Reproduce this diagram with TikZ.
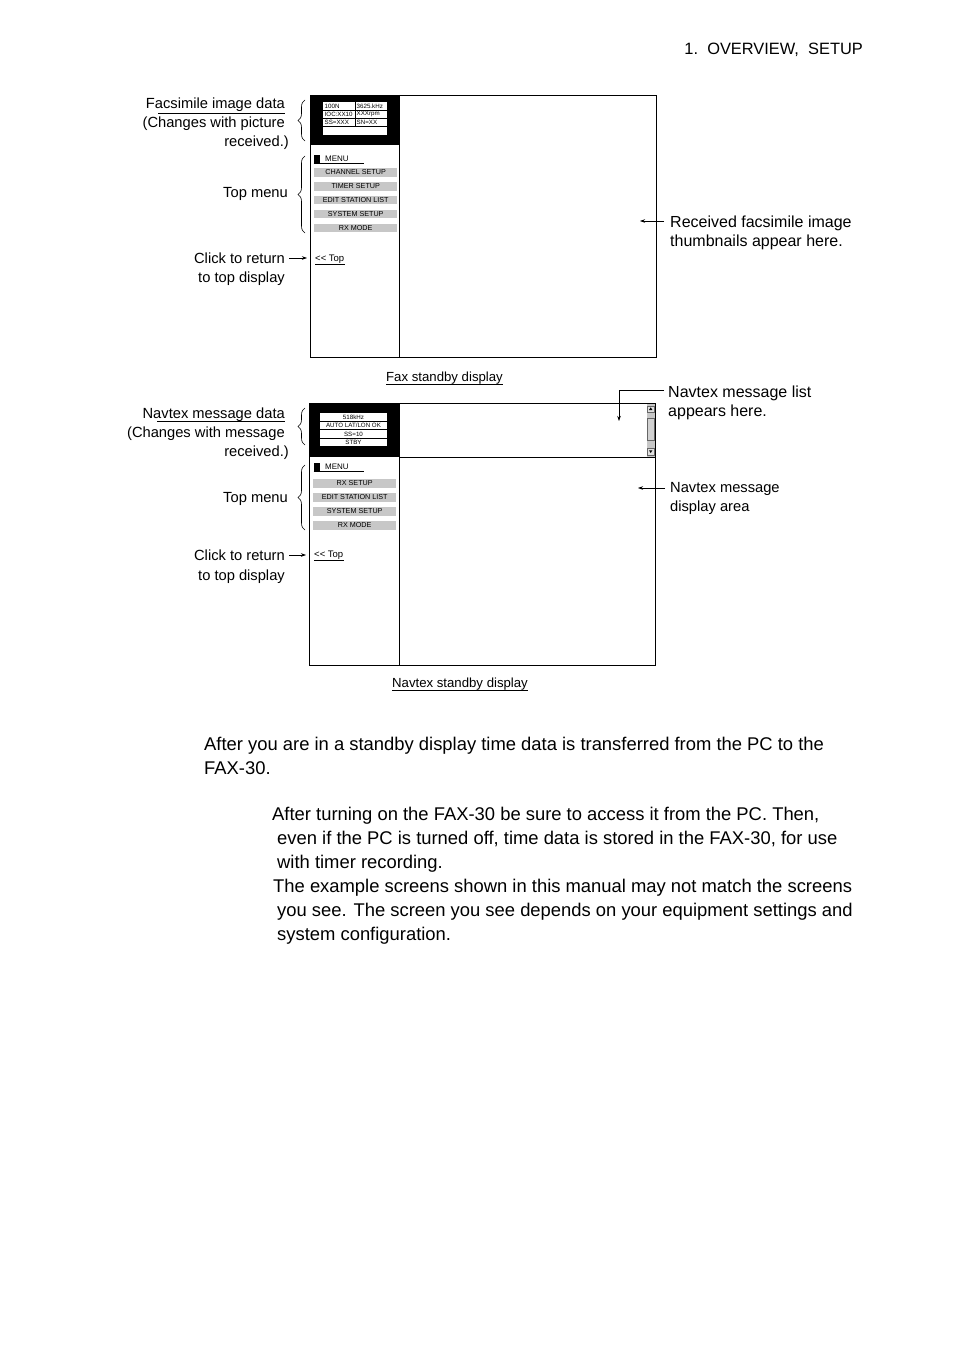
\documentclass[tikz,border=0pt]{standalone}
\usepackage{fontspec}
\setmainfont{Liberation Sans}
\usetikzlibrary{decorations.pathreplacing,arrows.meta}
\begin{document}
\begin{tikzpicture}[x=1pt,y=-1pt,
  panel/.style={draw, line width=0.9pt, inner sep=0, anchor=north west},
  blk/.style={fill=black, inner sep=0, anchor=north west},
  lbl/.style={font=\fontsize{14.7}{17}\selectfont, inner sep=0, anchor=base east},
  rlbl/.style={font=\fontsize{16}{19}\selectfont, inner sep=0, anchor=base west},
  slbl/.style={font=\fontsize{14.7}{17}\selectfont, inner sep=0, anchor=base west},
  para/.style={font=\fontsize{18.4}{24}\selectfont, inner sep=0, anchor=base west},
  item/.style={fill=black!22, minimum width=83pt, minimum height=8.5pt, inner sep=0, font=\fontsize{7.2}{8}\selectfont, anchor=north west},
  cell/.style={font=\fontsize{6.2}{7}\selectfont, inner sep=0},
  menu/.style={font=\fontsize{8}{9}\selectfont, inner sep=0, anchor=west},
  toplink/.style={font=\fontsize{9.5}{10}\selectfont, inner sep=0, anchor=west},
  capt/.style={font=\fontsize{13.2}{15}\selectfont, inner sep=0, anchor=base},
  arr/.style={-{Stealth[length=5pt,width=3.5pt]}, line width=0.6pt},
  brc/.style={decorate, decoration={brace, amplitude=7pt}, line width=0.6pt},
  thinln/.style={line width=0.6pt},
]
\useasboundingbox (0,0) rectangle (954,1351);
\fill[white] (0,0) rectangle (954,1351);

% header
\node[font=\fontsize{16.4}{19}\selectfont, inner sep=0, anchor=base east] (hdr) at (863,55) {1.\ \ OVERVIEW,\ \ SETUP};

%%%%%%%%%%%%%%%% FAX PANEL
\node[panel, minimum width=346pt, minimum height=262pt] (fax) at (310,95) {};
\node[blk, minimum width=89pt, minimum height=50pt] (faxdata) at (310,95) {};
\draw[line width=0.9pt] (399,95) -- (399,357);
% data table
\node[fill=white, inner sep=0, anchor=north west, minimum width=64pt, minimum height=33pt] (faxtab) at (323,102) {};
\draw[thinln] (323,110) -- (387,110) (323,118) -- (387,118) (323,126) -- (387,126) (355,102) -- (355,126);
\node[cell, anchor=west] (c1) at (324.5,106) {100N};
\node[cell, anchor=west] (c2) at (356.5,106) {3625.kHz};
\node[cell, anchor=west] (c3) at (324.5,114) {IOC:XX10};
\node[cell, anchor=west] (c4) at (356.5,114) {XXXrpm};
\node[cell, anchor=west] (c5) at (324.5,122) {SS=XXX};
\node[cell, anchor=west] (c6) at (356.5,122) {SN=XX};
% menu
\node[blk, minimum width=6pt, minimum height=8pt] (fsq) at (313.5,155) {};
\node[menu] (fmenu) at (325,159) {MENU};
\draw[thinln] (313.5,163) -- (364,163);
\node[item] (fi1) at (314,168) {CHANNEL SETUP};
\node[item] (fi2) at (314,182) {TIMER SETUP};
\node[item] (fi3) at (314,195.5) {EDIT STATION LIST};
\node[item] (fi4) at (314,209.5) {SYSTEM SETUP};
\node[item] (fi5) at (314,223.5) {RX MODE};
\node[toplink] (ftop) at (315,259) {<{}< Top};
\draw[line width=0.5pt] (315,264.5) -- (345,264.5);
% caption
\node[capt] (fcap) at (444.5,381) {Fax standby display};
\draw[line width=1pt] (386,384.5) -- (503,384.5);

% left labels fax
\node[lbl] (fl1) at (285,109) {Facsimile image data};
\draw[thinln] (158,113) -- (285,113);
\node[lbl] (fl2) at (285,128) {(Changes with picture};
\node[lbl] (fl3) at (289,147) {received.)};
\node[lbl] (fl4) at (288,197) {Top menu};
\node[lbl] (fl5) at (285,263) {Click to return};
\node[lbl] (fl6) at (285,282) {to top display};
\draw[brc] (305,141) -- (305,100);
\draw[brc] (305,233) -- (305,156);
\coordinate (fa1) at (307,258);
\draw[arr] (289,258) -- (fa1);

% right label fax
\node[rlbl] (fr1) at (670,227) {Received facsimile image};
\node[rlbl] (fr2) at (670,246) {thumbnails appear here.};
\coordinate (fa2) at (640,221);
\draw[arr] (664,221) -- (fa2);

%%%%%%%%%%%%%%%% NAVTEX PANEL
\node[panel, minimum width=346pt, minimum height=262pt] (nav) at (309,403) {};
\node[blk, minimum width=90pt, minimum height=54pt] (navdata) at (309,403) {};
\draw[line width=0.9pt] (399,403) -- (399,665);
\draw[line width=0.9pt] (399,457) -- (655,457);
% scrollbar
\node[fill=black!22, inner sep=0, anchor=north west, minimum width=8.5pt, minimum height=53pt] (sbar) at (646.5,403.5) {};
\node[draw=black!60, fill=black!12, line width=0.4pt, inner sep=0, anchor=north west, minimum width=7pt, minimum height=6.5pt] (sup) at (647.2,405.5) {};
\node[draw=black!60, fill=black!18, line width=0.4pt, inner sep=0, anchor=north west, minimum width=7pt, minimum height=22pt] (sthumb) at (647.2,418) {};
\node[draw=black!60, fill=black!12, line width=0.4pt, inner sep=0, anchor=north west, minimum width=7pt, minimum height=6.5pt] (sdown) at (647.2,448) {};
\fill (650.7,407.3) -- (652.4,410) -- (649,410) -- cycle;
\fill (650.7,453) -- (652.4,450.3) -- (649,450.3) -- cycle;
% data table
\node[fill=white, inner sep=0, anchor=north west, minimum width=67pt, minimum height=33pt] (navtab) at (320,413) {};
\draw[line width=0.9pt] (320,421.2) -- (387,421.2) (320,429.8) -- (387,429.8) (320,438) -- (387,438);
\node[cell] (n1) at (353.5,417) {518kHz};
\node[cell] (n2) at (353.5,425.5) {AUTO LAT/LON OK};
\node[cell] (n3) at (353.5,434) {SS=10};
\node[cell] (n4) at (353.5,442) {STBY};
% menu
\node[blk, minimum width=6pt, minimum height=8pt] (nsq) at (313.5,463) {};
\node[menu] (nmenu) at (325,467) {MENU};
\draw[thinln] (313.5,471.5) -- (364,471.5);
\node[item] (ni1) at (313,479) {RX SETUP};
\node[item] (ni2) at (313,493) {EDIT STATION LIST};
\node[item] (ni3) at (313,507) {SYSTEM SETUP};
\node[item] (ni4) at (313,521) {RX MODE};
\node[toplink] (ntop) at (314,555) {<{}< Top};
\draw[line width=0.5pt] (314,560.5) -- (344,560.5);
% caption
\node[capt] (ncap) at (460,687) {Navtex standby display};
\draw[line width=1pt] (392,690.5) -- (528,690.5);

% left labels navtex
\node[lbl] (nl1) at (285,418) {Navtex message data};
\draw[thinln] (157,421) -- (285,421);
\node[lbl] (nl2) at (285,437) {(Changes with message};
\node[lbl] (nl3) at (289,456) {received.)};
\node[lbl] (nl4) at (288,502) {Top menu};
\node[lbl] (nl5) at (285,560) {Click to return};
\node[lbl] (nl6) at (285,580) {to top display};
\draw[brc] (305,445) -- (305,408);
\draw[brc] (305,530) -- (305,465);
\coordinate (na1) at (306,555);
\draw[arr] (289,555) -- (na1);

% right labels navtex
\node[rlbl] (nr1) at (668,397) {Navtex message list};
\node[rlbl] (nr2) at (668,416) {appears here.};
\coordinate (na2) at (619,421);
\draw[arr] (664,390.5) -- (619,390.5) -- (na2);
\node[slbl] (nr3) at (670,492) {Navtex message};
\node[slbl] (nr4) at (670,511) {display area};
\coordinate (na3) at (638,488);
\draw[arr] (665,488) -- (na3);

%%%%%%%%%%%%%%%% PARAGRAPH
\node[para] (p1) at (204,750) {After you are in a standby display time data is transferred from the PC to the};
\node[para] (p2) at (204,774) {FAX-30.};
\node[para] (p3) at (272,820) {After turning on the FAX-30 be sure to access it from the PC. Then,};
\node[para] (p4) at (277,844) {even if the PC is turned off, time data is stored in the FAX-30, for use};
\node[para] (p5) at (277,868) {with timer recording.};
\node[para] (p6) at (273,892) {The example screens shown in this manual may not match the screens};
\node[para] (p7) at (277,916) {you see. The screen you see depends on your equipment settings and};
\node[para] (p8) at (277,940) {system configuration.};
\end{tikzpicture}
\end{document}
